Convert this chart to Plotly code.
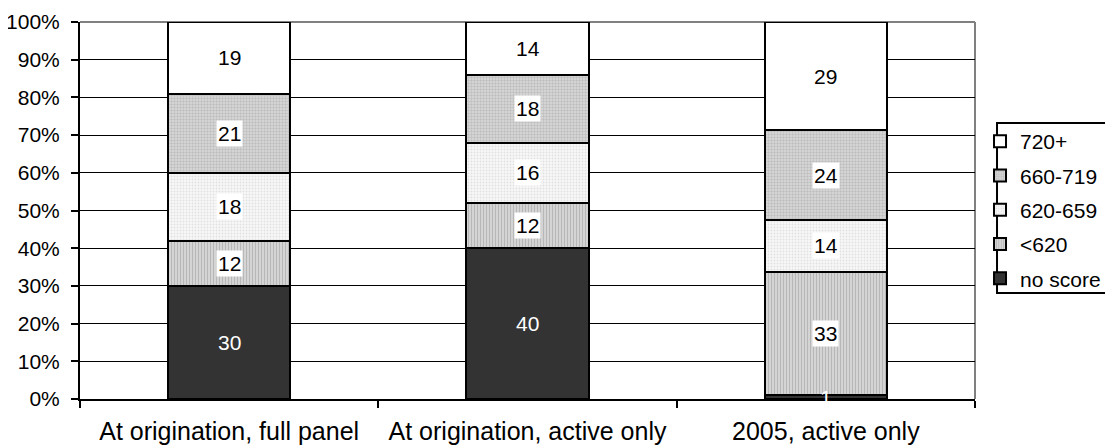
import plotly.graph_objects as go

categories = ["At origination, full panel", "At origination, active only", "2005, active only"]
series = ["no score", "<620", "620-659", "660-719", "720+"]

no_score = [30, 40, 1]
below_620 = [12, 12, 33]
s620_659 = [18, 16, 14]
s660_719 = [21, 18, 24]
s720_plus = [19, 14, 29]

values = [no_score, below_620, s620_659, s660_719, s720_plus]

# look of each band (solid or dotted fill like the old excel chart)
styles = [
    dict(color="#333333", pattern=None),
    dict(color="#c8c8c8", pattern=dict(shape="|", size=3, solidity=0.35, fgcolor="#9a9a9a", bgcolor="#d4d4d4")),
    dict(color="#f2f2f2", pattern=dict(shape=".", size=3, solidity=0.3, fgcolor="#c8c8c8", bgcolor="#f8f8f8")),
    dict(color="#c0c0c0", pattern=dict(shape=".", size=3, solidity=0.5, fgcolor="#a0a0a0", bgcolor="#dcdcdc")),
    dict(color="#ffffff", pattern=None),
]

font = "Liberation Sans, Arial, sans-serif"

fig = go.Figure()
for j, (name, vals, st) in enumerate(zip(series, values, styles)):
    marker = dict(color=st["color"], line=dict(color="black", width=2))
    if st["pattern"]:
        marker["pattern"] = st["pattern"]
    fig.add_trace(go.Bar(
        x=categories, y=vals, name=name, legendgroup=name,
        legendrank=len(series) - j,  # top band first in the legend
        marker=marker, width=0.41,
    ))

# value labels in the middle of every segment
totals = [sum(v[i] for v in values) for i in range(len(categories))]
for i, cat in enumerate(categories):
    cum = 0
    for j, vals in enumerate(values):
        v = vals[i]
        mid = (cum + v / 2) / totals[i] * 100
        cum += v
        dark = j == 0
        fig.add_annotation(
            x=cat, y=mid, text=str(v), showarrow=False,
            font=dict(size=21, color="white" if dark else "black", family=font),
            bgcolor=None if dark else "white", borderpad=1,
        )

# page body has an 8px margin, so the figure is a bit smaller than the window
fig.update_layout(
    barmode="stack", barnorm="percent",
    width=1105, height=440,
    margin=dict(l=72, r=138, t=14, b=49, autoexpand=False),
    paper_bgcolor="white", plot_bgcolor="white",
    font=dict(family=font, size=21, color="black"),
    showlegend=True,
    legend=dict(
        x=1.0056, y=0.7374, xanchor="left", yanchor="top",
        traceorder="grouped", tracegroupgap=4,
        borderwidth=0, bgcolor="rgba(0,0,0,0)",
        itemwidth=30, font=dict(size=21),
    ),
)
fig.update_xaxes(
    showline=True, linecolor="black", linewidth=2,
    ticks="outside", tickson="boundaries", ticklen=7, tickcolor="black", tickwidth=2,
    showgrid=False, automargin=False, tickfont=dict(size=25), ticklabelstandoff=9,
)
fig.update_yaxes(
    range=[0, 100], dtick=10, ticksuffix="%",
    showline=True, linecolor="black", linewidth=2,
    ticks="outside", ticklen=7, tickcolor="black", tickwidth=2,
    showgrid=True, gridcolor="black", gridwidth=1, zeroline=False,
    automargin=False, ticklabelstandoff=7, ticklabeloverflow="allow",
)
# grey frame of the plot area (top and right)
fig.add_shape(type="line", xref="paper", yref="paper", x0=0, x1=1, y0=1, y1=1,
              line=dict(color="#808080", width=2), layer="below")
fig.add_shape(type="line", xref="paper", yref="paper", x0=1, x1=1, y0=0, y1=1,
              line=dict(color="#808080", width=2), layer="below")
# legend frame
fig.add_shape(type="rect", xref="paper", yref="paper", x0=1.0246, x1=1.16, y0=0.2812, y1=0.7321,
              line=dict(color="black", width=2), layer="below")

fig.write_html("out.html")
